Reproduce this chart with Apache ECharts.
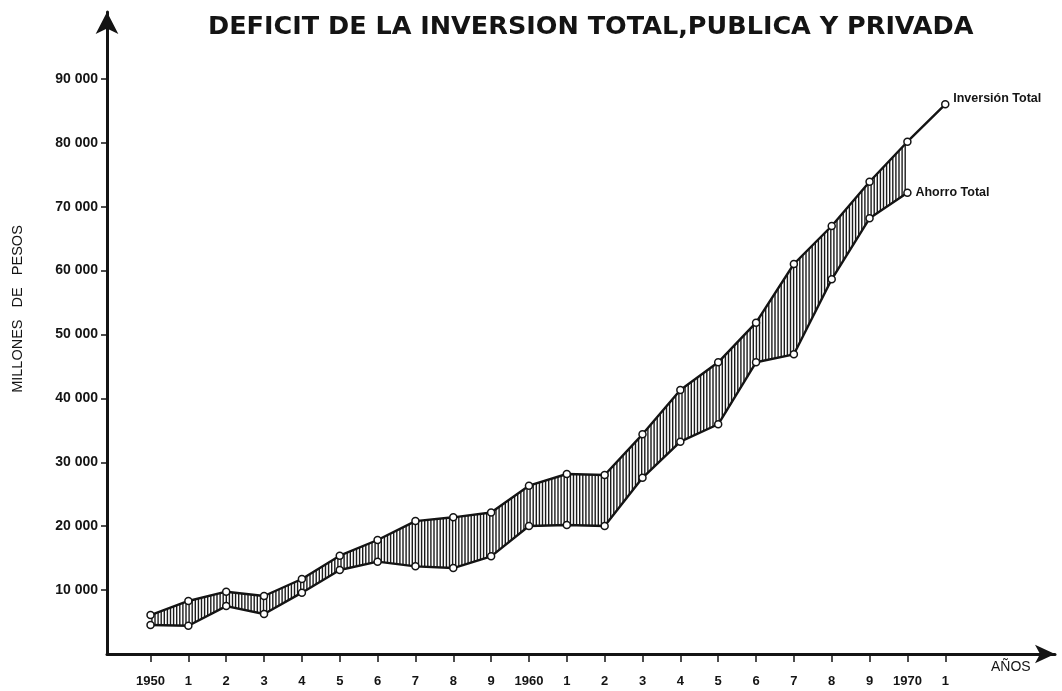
<!DOCTYPE html>
<html>
<head>
<meta charset="utf-8">
<script src="https://cdn.jsdelivr.net/npm/echarts@6/dist/echarts.min.js"></script>
<style>
  html, body { margin: 0; padding: 0; background: #fff; }
  #main { width: 1062px; height: 691px; }
</style>
</head>
<body>
<div id="main"></div>
<script>
// años y rótulos del eje X
const years = [1950, 1951, 1952, 1953, 1954, 1955, 1956, 1957, 1958, 1959, 1960,
  1961, 1962, 1963, 1964, 1965, 1966, 1967, 1968, 1969, 1970, 1971]
const yearLabels = ['1950', '1', '2', '3', '4', '5', '6', '7', '8', '9', '1960',
  '1', '2', '3', '4', '5', '6', '7', '8', '9', '1970', '1']

// millones de pesos
const inversionTotal = [6100, 8300, 9750, 9080, 11740, 15390, 17840, 20800, 21390, 22140, 26340,
  28170, 28010, 34380, 41310, 45650, 51850, 61030, 66980, 73910, 80170, 86020]
const ahorroTotal = [4540, 4430, 7500, 6260, 9600, 13150, 14450, 13720, 13450, 15280, 20030,
  20190, 20030, 27570, 33230, 35950, 45650, 46900, 58640, 68180, 72190, null]

// marcas del eje Y
const yTicks = [10000, 20000, 30000, 40000, 50000, 60000, 70000, 80000, 90000]

const ink = '#141414'

const pairs = (arr) => years.map((y, i) => [y, arr[i]])

// un tramo rayado entre cada par de años con ambas series
const segments = []
for (let i = 0; i < years.length - 1; i++) {
  if (ahorroTotal[i] != null && ahorroTotal[i + 1] != null) {
    segments.push([years[i], inversionTotal[i], i])
  }
}

// rayas verticales entre Inversión y Ahorro
function renderHatch(params, api) {
  const i = api.value(2)
  const t0 = api.coord([years[i], inversionTotal[i]])
  const t1 = api.coord([years[i + 1], inversionTotal[i + 1]])
  const b0 = api.coord([years[i], ahorroTotal[i]])
  const b1 = api.coord([years[i + 1], ahorroTotal[i + 1]])
  const step = 3.1
  const children = []
  let x = Math.ceil(t0[0] / step) * step
  for (; x < t1[0]; x += step) {
    const k = (x - t0[0]) / (t1[0] - t0[0])
    const yt = t0[1] + (t1[1] - t0[1]) * k
    const yb = b0[1] + (b1[1] - b0[1]) * k
    children.push({
      type: 'line',
      shape: { x1: x, y1: yt, x2: x, y2: yb },
      style: { stroke: '#1c1c1c', lineWidth: 1.4 }
    })
  }
  return { type: 'group', children: children }
}

const chart = echarts.init(document.getElementById('main'))

chart.setOption({
  animation: false,
  backgroundColor: '#fff',
  title: {
    text: 'DEFICIT DE LA INVERSION TOTAL,PUBLICA Y PRIVADA',
    left: 203,
    top: 9,
    textStyle: {
      fontFamily: 'DejaVu Sans',
      fontWeight: 'bold',
      fontSize: 25.5,
      color: ink
    }
  },
  grid: {
    left: 107,
    right: 7,
    top: 12,
    bottom: 37
  },
  xAxis: {
    type: 'value',
    min: 1948.85,
    max: 1973.9,
    splitLine: { show: false },
    name: 'AÑOS',
    nameLocation: 'end',
    nameGap: -64,
    nameTextStyle: {
      fontFamily: 'Liberation Sans',
      fontSize: 14,
      color: ink,
      verticalAlign: 'top',
      padding: [6, 0, 0, 0]
    },
    axisLine: {
      lineStyle: { color: ink, width: 3 },
      symbol: ['none', 'arrow'],
      symbolSize: [14, 20]
    },
    axisTick: {
      customValues: years,
      length: 8,
      lineStyle: { color: ink, width: 1.5 }
    },
    axisLabel: {
      customValues: years,
      margin: 21,
      fontFamily: 'Liberation Sans',
      fontWeight: 'bold',
      fontSize: 13,
      color: ink,
      formatter: (v) => yearLabels[years.indexOf(Math.round(v))]
    }
  },
  yAxis: {
    type: 'value',
    min: 0,
    max: 100470,
    splitLine: { show: false },
    name: 'MILLONES   DE   PESOS',
    nameLocation: 'middle',
    nameRotate: 90,
    nameGap: 82,
    nameTextStyle: {
      fontFamily: 'Liberation Sans',
      fontSize: 14.5,
      color: ink,
      padding: [0, 0, 0, 48]
    },
    axisLine: {
      show: true,
      lineStyle: { color: ink, width: 3 },
      symbol: ['none', 'arrow'],
      symbolSize: [17, 22]
    },
    axisTick: {
      show: true,
      customValues: yTicks,
      length: 6,
      lineStyle: { color: ink, width: 1.5 }
    },
    axisLabel: {
      customValues: yTicks,
      margin: 9,
      fontFamily: 'Liberation Sans',
      fontWeight: 'bold',
      fontSize: 14,
      color: ink,
      formatter: (v) => (v / 1000) + ' 000'
    }
  },
  series: [
    {
      name: 'deficit',
      type: 'custom',
      renderItem: renderHatch,
      data: segments,
      encode: { x: 0, y: 1 },
      silent: true,
      z: 1
    },
    {
      name: 'Inversión Total',
      type: 'line',
      data: pairs(inversionTotal),
      symbol: 'circle',
      symbolSize: 7,
      itemStyle: { color: '#fff', borderColor: ink, borderWidth: 1.5 },
      lineStyle: { color: ink, width: 2.4 },
      endLabel: {
        show: true,
        formatter: 'Inversión Total',
        distance: 8,
        offset: [0, -6],
        fontFamily: 'Liberation Sans',
        fontWeight: 'bold',
        fontSize: 12.5,
        color: ink
      },
      z: 3
    },
    {
      name: 'Ahorro Total',
      type: 'line',
      data: pairs(ahorroTotal),
      symbol: 'circle',
      symbolSize: 7,
      itemStyle: { color: '#fff', borderColor: ink, borderWidth: 1.5 },
      lineStyle: { color: ink, width: 2.4 },
      endLabel: {
        show: true,
        formatter: 'Ahorro Total',
        distance: 8,
        fontFamily: 'Liberation Sans',
        fontWeight: 'bold',
        fontSize: 12.5,
        color: ink
      },
      z: 3
    }
  ]
})
</script>
</body>
</html>
